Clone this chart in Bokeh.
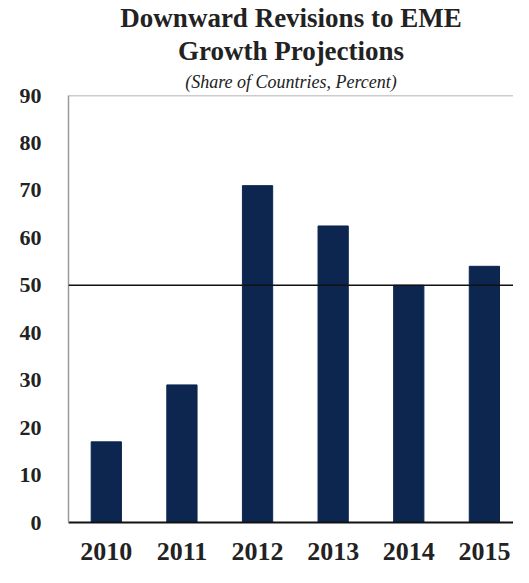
from bokeh.plotting import figure
from bokeh.models import Range1d, FixedTicker, Span, Title, ColumnDataSource
from bokeh.embed import file_html
from bokeh.resources import INLINE

years = ["2010", "2011", "2012", "2013", "2014", "2015"]
shares = [17, 29, 71, 62.5, 50, 54]
y_ticks = [0, 10, 20, 30, 40, 50, 60, 70, 80, 90]
threshold = 50

xpos = list(range(len(years)))
src = ColumnDataSource(dict(x=xpos, top=shares))

p = figure(width=513, height=567, output_backend="svg", toolbar_location=None,
           x_range=Range1d(-0.5, 5.385), y_range=Range1d(0, 90),
           min_border_left=68, min_border_right=0, min_border_top=0, min_border_bottom=45)
p.outline_line_color = None
p.xgrid.visible = False
p.ygrid.visible = False
p.background_fill_color = "white"
p.border_fill_color = "white"

p.vbar(x="x", top="top", width=0.4, bottom=0, source=src,
       fill_color="#0c2650", line_color="#0c2650")

p.add_layout(Span(location=threshold, dimension="width", line_color="#111111", line_width=1.6))
p.add_layout(Span(location=y_ticks[-1], dimension="width", line_color="#9a9a9a", line_width=1.5))

font = "Liberation Serif"
# y axis
p.yaxis.ticker = FixedTicker(ticks=y_ticks)
p.yaxis.axis_line_color = "#9a9a9a"
p.yaxis.axis_line_width = 1.5
p.yaxis.major_tick_line_color = None
p.yaxis.minor_tick_line_color = None
p.yaxis.major_label_text_font = font
p.yaxis.major_label_text_font_style = "bold"
p.yaxis.major_label_text_font_size = "22px"
p.yaxis.major_label_text_color = "#222222"
p.yaxis.major_label_standoff = 21

# x axis
p.xaxis.ticker = FixedTicker(ticks=xpos)
p.xaxis.major_label_overrides = {i: y for i, y in zip(xpos, years)}
p.xaxis.axis_line_color = "#111111"
p.xaxis.axis_line_width = 2
p.xaxis.major_tick_line_color = None
p.xaxis.minor_tick_line_color = None
p.xaxis.major_label_text_font = font
p.xaxis.major_label_text_font_style = "bold"
p.xaxis.major_label_text_font_size = "26px"
p.xaxis.major_label_text_color = "#222222"
p.xaxis.major_label_standoff = 14

p.add_layout(Title(text="(Share of Countries, Percent)", align="center", text_font=font,
                   text_font_style="italic", text_font_size="18px", text_color="#222222",
                   standoff=7), "above")
p.add_layout(Title(text="Growth Projections", align="center", text_font=font,
                   text_font_style="bold", text_font_size="27px", text_color="#222222",
                   standoff=1), "above")
p.add_layout(Title(text="Downward Revisions to EME", align="center", text_font=font,
                   text_font_style="bold", text_font_size="27px", text_color="#222222",
                   standoff=1), "above")

open("out.html", "w").write(file_html(p, INLINE))
